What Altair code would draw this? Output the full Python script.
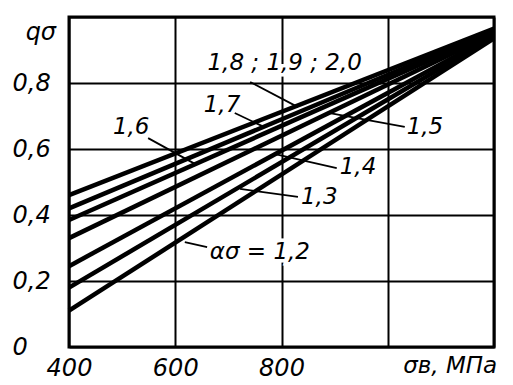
import altair as alt
import pandas as pd

# ---- data ----
sigma_b = [400, 1200]                      # МПа, line end points
alpha_labels = ["1,2", "1,3", "1,4", "1,5", "1,6", "1,7", "1,8;1,9;2,0"]
q_at_400 = [0.11, 0.18, 0.245, 0.33, 0.385, 0.42, 0.46]
q_at_1200 = [0.935, 0.94, 0.945, 0.95, 0.955, 0.96, 0.965]

x_ticks = [400, 600, 800, 1000, 1200]
y_ticks = [0, 0.2, 0.4, 0.6, 0.8, 1.0]

# annotation labels (text, x, y, align) and leader lines (x, y, x2, y2)
ann_text = ["1,8 ; 1,9 ; 2,0", "1,7", "1,6", "1,5", "1,4", "1,3", "ασ = 1,2"]
ann_x = [806, 688, 517, 1070, 944, 871, 665]
ann_y = [0.861, 0.733, 0.667, 0.667, 0.545, 0.455, 0.288]
ann_align = ["center", "center", "center", "center", "center", "center", "left"]

lead_x = [741, 712, 549, 1032, 904, 831, 660]
lead_y = [0.803, 0.709, 0.633, 0.667, 0.542, 0.455, 0.303]
lead_x2 = [831, 763, 637, 891, 786, 722, 618]
lead_y2 = [0.727, 0.670, 0.555, 0.709, 0.585, 0.479, 0.318]

# ---- tables ----
rows = []
for a, q0, q1 in zip(alpha_labels, q_at_400, q_at_1200):
    rows.append({"alpha": a, "sigma": sigma_b[0], "q": q0})
    rows.append({"alpha": a, "sigma": sigma_b[1], "q": q1})
lines_df = pd.DataFrame(rows)

ann_df = pd.DataFrame({"t": ann_text, "x": ann_x, "y": ann_y, "align": ann_align})
lead_df = pd.DataFrame({"x": lead_x, "y": lead_y, "x2": lead_x2, "y2": lead_y2})

unit_df = pd.DataFrame({"t": ["σв, МПа"], "x": [1029], "y": [-0.058]})
ylab_df = pd.DataFrame({"t": ["qσ"], "x": [347], "y": [0.951]})

FONT = "DejaVu Sans"

xscale = alt.Scale(domain=[400, 1200], nice=False, zero=False)
yscale = alt.Scale(domain=[0, 1], nice=False)

xaxis = alt.Axis(
    values=x_ticks, title=None, grid=True, gridColor="black", gridWidth=2, gridOpacity=1,
    domain=False, ticks=False, labelFont=FONT, labelFontStyle="italic", labelFontSize=24,
    labelColor="black", labelPadding=9, labelFlush=False, labelOverlap=False,
    labelExpr="datum.value <= 800 ? datum.value : ''",
)
yaxis = alt.Axis(
    values=y_ticks, title=None, grid=True, gridColor="black", gridWidth=2, gridOpacity=1,
    domain=False, ticks=False, labelFont=FONT, labelFontStyle="italic", labelFontSize=24,
    labelColor="black", labelAlign="left", labelBaseline="middle", labelPadding=57,
    labelFlush=False, labelOverlap=False,
    labelExpr="datum.value == 0 ? '0' : (datum.value > 0.9 ? '' : replace(format(datum.value, '.1f'), '.', ','))",
)

lines = alt.Chart(lines_df).mark_line(color="black", strokeWidth=4.5).encode(
    x=alt.X("sigma:Q", scale=xscale, axis=xaxis),
    y=alt.Y("q:Q", scale=yscale, axis=yaxis),
    detail="alpha:N",
)

leaders = alt.Chart(lead_df).mark_rule(color="black", strokeWidth=1.8).encode(
    x=alt.X("x:Q", scale=xscale), y=alt.Y("y:Q", scale=yscale),
    x2="x2:Q", y2="y2:Q",
)

def text_layer(df, align, halo):
    kw = dict(font=FONT, fontStyle="italic", fontSize=23, align=align, baseline="middle")
    if halo:
        kw.update(color="white", stroke="white", strokeWidth=7)
    else:
        kw.update(color="black")
    return alt.Chart(df).mark_text(**kw).encode(
        x=alt.X("x:Q", scale=xscale), y=alt.Y("y:Q", scale=yscale), text="t:N"
    )

center_df = ann_df[ann_df["align"] == "center"]
left_df = ann_df[ann_df["align"] == "left"]

layers = [
    text_layer(center_df, "center", True),
    text_layer(left_df, "left", True),
    lines,
    leaders,
    text_layer(center_df, "center", False),
    text_layer(left_df, "left", False),
    alt.Chart(unit_df).mark_text(font=FONT, fontStyle="italic", fontSize=23, align="left",
                                 baseline="middle", color="black").encode(
        x=alt.X("x:Q", scale=xscale), y=alt.Y("y:Q", scale=yscale), text="t:N"),
    alt.Chart(ylab_df).mark_text(font=FONT, fontStyle="italic", fontSize=24, align="center",
                                 baseline="middle", color="black").encode(
        x=alt.X("x:Q", scale=xscale), y=alt.Y("y:Q", scale=yscale), text="t:N"),
]

chart = alt.layer(*layers).properties(
    width=425, height=330,
    autosize=alt.AutoSizeParams(type="none"),
    padding={"left": 69, "top": 17, "right": 19, "bottom": 38},
    background="white",
).configure_view(stroke="black", strokeWidth=3)

chart.save("out.html", embed_options={"renderer": "svg", "actions": False})
